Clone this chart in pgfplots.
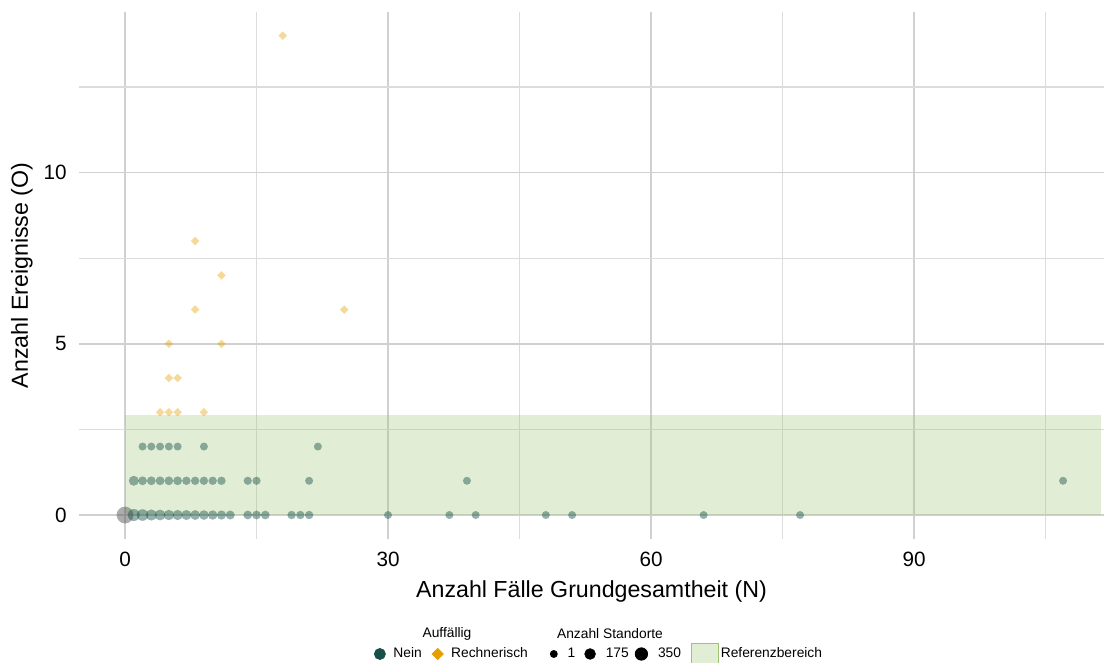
\documentclass[border=0pt]{standalone}
\usepackage{fontspec}
\setmainfont{Liberation Sans}
\usepackage{pgfplots}
\usepackage{pgfplotstable}
\pgfplotsset{compat=1.18}
\definecolor{nein}{HTML}{174F4A}
\definecolor{rech}{HTML}{E69F00}
\definecolor{bandc}{HTML}{9EC373}
\definecolor{grmaj}{HTML}{D0D0D0}
\definecolor{grmin}{HTML}{DCDCDC}
\definecolor{nacol}{HTML}{595959}

\pgfplotsset{neinpt/.style={only marks, mark=*, forget plot,
  mark options={draw=nein, draw opacity=0, fill=nein, fill opacity=0.45}}}

\pgfplotstableread{
x y
18 14
8 8
11 7
8 6
25 6
5 5
11 5
5 4
6 4
4 3
5 3
6 3
9 3
}\rechdata

\begin{document}
\begin{tikzpicture}
\path[use as bounding box] (0,0) rectangle (552pt,331.5pt);
\begin{axis}[
  at={(39.5pt,62pt)}, anchor=south west,
  scale only axis, width=512.5pt, height=263.5pt,
  xmin=-5.25, xmax=111.67, ymin=-0.70, ymax=14.69,
  xtick={0,30,60,90}, ytick={0,5,10},
  minor xtick={15,45,75,105}, minor ytick={2.5,7.5,12.5},
  grid=both,
  major grid style={line width=0.8pt, draw=grmaj},
  minor grid style={line width=0.55pt, draw=grmin},
  axis line style={draw=none},
  major tick length=0pt, minor tick length=0pt,
  tick style={draw=none},
  tick label style={font=\fontsize{10.35}{12}\selectfont, inner sep=0pt},
  /pgf/number format/assume math mode=true,
  xticklabel style={yshift=-6.5pt},
  yticklabel style={xshift=-6pt},
  xlabel={Anzahl Fälle Grundgesamtheit (N)},
  ylabel={Anzahl Ereignisse (O)},
  every axis x label/.style={at={(axis description cs:0.5,0)}, anchor=center, yshift=-26.5pt, font=\fontsize{11.6}{14}\selectfont},
  every axis y label/.style={at={(axis description cs:0,0.5)}, anchor=center, xshift=-28.5pt, rotate=90, font=\fontsize{11.6}{14}\selectfont},
  legend columns=6,
  legend cell align=left,
  legend style={draw=none, fill=none, inner sep=0pt, outer sep=0pt,
    font=\fontsize{6.9}{8.3}\selectfont,
    at={(0.2878,-0.2182)}, anchor=west,
    nodes={inner sep=0pt},
    /tikz/column 1/.style={column sep=3.8pt},
    /tikz/column 2/.style={column sep=5pt},
    /tikz/column 3/.style={column sep=3.8pt},
    /tikz/column 4/.style={column sep=11pt},
    /tikz/column 5/.style={column sep=5pt},
    /tikz/column 6/.style={column sep=4.5pt},
    /tikz/column 7/.style={column sep=5pt},
    /tikz/column 8/.style={column sep=3pt},
    /tikz/column 9/.style={column sep=5pt},
    /tikz/column 10/.style={column sep=5pt},
    /tikz/column 11/.style={column sep=1pt},
  },
]
% reference band
\addplot[fill=bandc, fill opacity=0.3, draw=none, forget plot]
  coordinates {(0,0) (0,2.92) (111.3,2.92) (111.3,0)} -- cycle;
% NA point
\addplot[only marks, mark=*, mark size=4.2pt,
  mark options={draw=nacol, draw opacity=0, fill=nacol, fill opacity=0.5}, forget plot]
  coordinates {(0,0)};
% Nein (grouped by marker size = number of sites)
\addplot[neinpt, mark size=2.0pt] coordinates {(30,0) (37,0) (40,0) (48,0) (51,0) (66,0) (77,0) (21,1) (39,1) (107,1) (2,2) (3,2) (4,2) (5,2) (6,2) (9,2) (22,2)};
\addplot[neinpt, mark size=2.05pt] coordinates {(14,1) (15,1)};
\addplot[neinpt, mark size=2.1pt] coordinates {(19,0) (20,0) (21,0) (7,1) (8,1) (9,1) (10,1) (11,1)};
\addplot[neinpt, mark size=2.2pt] coordinates {(14,0) (15,0) (16,0) (2,1) (3,1) (4,1) (5,1) (6,1)};
\addplot[neinpt, mark size=2.5pt] coordinates {(1,1)};
\addplot[neinpt, mark size=3.0pt] coordinates {(1,0)};
\addplot[neinpt, mark size=2.9pt] coordinates {(2,0)};
\addplot[neinpt, mark size=2.8pt] coordinates {(3,0)};
\addplot[neinpt, mark size=2.7pt] coordinates {(4,0)};
\addplot[neinpt, mark size=2.6pt] coordinates {(5,0)};
\addplot[neinpt, mark size=2.55pt] coordinates {(6,0)};
\addplot[neinpt, mark size=2.5pt] coordinates {(7,0)};
\addplot[neinpt, mark size=2.45pt] coordinates {(8,0)};
\addplot[neinpt, mark size=2.4pt] coordinates {(9,0)};
\addplot[neinpt, mark size=2.35pt] coordinates {(10,0)};
\addplot[neinpt, mark size=2.3pt] coordinates {(11,0)};
\addplot[neinpt, mark size=2.25pt] coordinates {(12,0)};
% Rechnerisch
\addplot[only marks, mark=square*, mark size=1.5pt,
  mark options={rotate=45, draw=rech, draw opacity=0, fill=rech, fill opacity=0.4}, forget plot]
  table[x=x, y=y] {\rechdata};

\addlegendimage{legend image code/.code={\fill[nein] (0,0) circle (2.75pt);}}
\addlegendentry{Nein}
\addlegendimage{legend image code/.code={\fill[rech, rotate=45] (-1.95pt,-1.95pt) rectangle (1.95pt,1.95pt);}}
\addlegendentry{Rechnerisch}
\addlegendimage{legend image code/.code={\fill[black] (0,0) circle (1.75pt);}}
\addlegendentry{1}
\addlegendimage{legend image code/.code={\fill[black] (0,0) circle (2.65pt);}}
\addlegendentry{175}
\addlegendimage{legend image code/.code={\fill[black] (0,0) circle (3.1pt);}}
\addlegendentry{350}
\addlegendimage{legend image code/.code={\fill[bandc, fill opacity=0.3] (-6.75pt,-5.5pt) rectangle (6.75pt,5.5pt);}}
\addlegendentry{Referenzbereich}
\end{axis}
\node[font=\fontsize{6.9}{8.3}\selectfont, inner sep=0pt] at (223.5pt,14.5pt) {Auffällig};
\node[font=\fontsize{6.9}{8.3}\selectfont, inner sep=0pt] at (305pt,14.5pt) {Anzahl Standorte};
\end{tikzpicture}
\end{document}
